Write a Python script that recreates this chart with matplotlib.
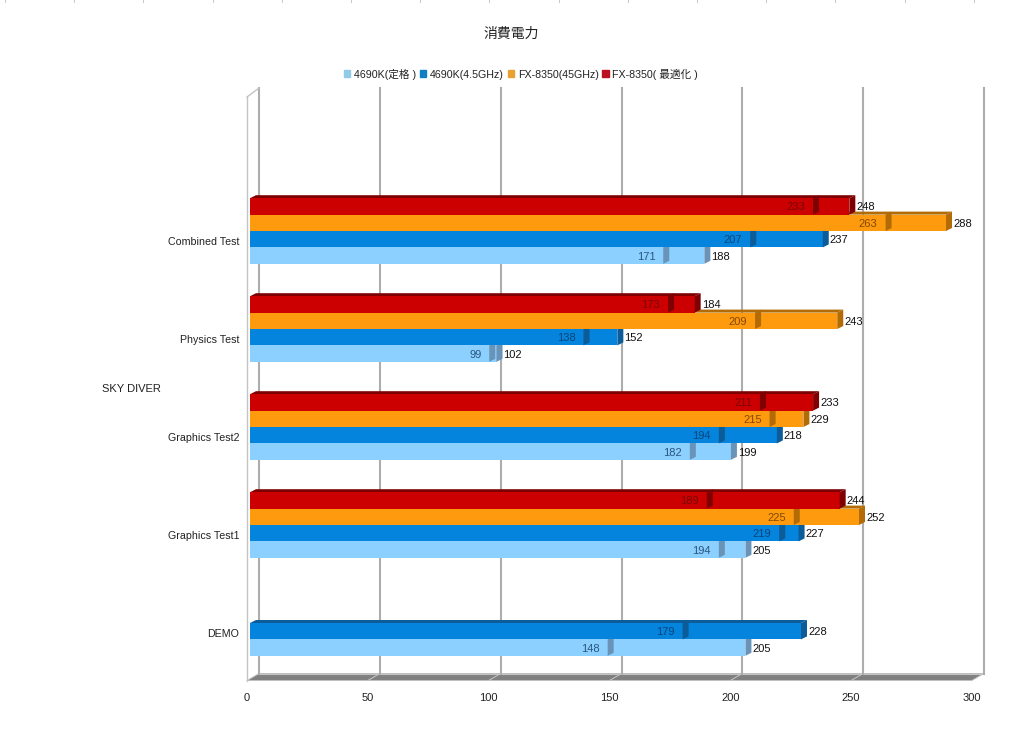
import numpy as np
import matplotlib
matplotlib.use('Agg')
import matplotlib.pyplot as plt
from matplotlib.lines import Line2D
from matplotlib.patches import Patch

plt.rcParams['font.family'] = ['Liberation Sans', 'Noto Sans CJK JP']
plt.rcParams['font.size'] = 7.7

categories = ['DEMO', 'Graphics Test1', 'Graphics Test2', 'Physics Test', 'Combined Test']
series_names = ['4690K(定格 )', '4690K(4.5GHz)', 'FX-8350(45GHz)', 'FX-8350( 最適化 )']
x_ticks = [0, 50, 100, 150, 200, 250, 300]

# first value is the one drawn inside the bar, second is the bar end
light_inner = [148, 194, 182, 99, 171]
light_outer = [205, 205, 199, 102, 188]
blue_inner = [179, 219, 194, 138, 207]
blue_outer = [228, 227, 218, 152, 237]
orange_inner = [np.nan, 225, 215, 209, 263]
orange_outer = [np.nan, 252, 229, 243, 288]
red_inner = [np.nan, 189, 211, 173, 233]
red_outer = [np.nan, 244, 233, 184, 248]

inner = [light_inner, blue_inner, orange_inner, red_inner]
outer = [light_outer, blue_outer, orange_outer, red_outer]

face_cols = ['#8bd0ff', '#0484dc', '#fe9a0e', '#cc0000']
side_cols = ['#6a93b8', '#0b5c98', '#b26b05', '#7e0000']
inner_txt_cols = ['#2a5680', '#07467c', '#844800', '#7a0606']
legend_cols = ['#92cbe8', '#0f7fc4', '#e8a030', '#bb1020']

W, H = 1024, 741
fig = plt.figure(figsize=(W / 100, H / 100), dpi=100)
ax = fig.add_axes([247 / W, 1 - 680.5 / H, 725 / W, 592.5 / H])
ax.set_xlim(0, 300)
ax.set_ylim(-57.5 / 98, 535 / 98)

px = 300 / 725  # one pixel in x units
py = 1 / 98     # one pixel in y units

# walls and floor
back_x = 12 * px
back_y = 7 * py
y0, y1 = ax.get_ylim()
ax.fill([0, 300, 300 + back_x, back_x], [y0, y0, y0 + back_y, y0 + back_y],
        color='#808080', lw=0, clip_on=False, zorder=1)
ax.plot([back_x, 300 + back_x], [y0 + back_y] * 2, color='#c4c4c4', lw=0.8,
        clip_on=False, zorder=1.2)
for t in x_ticks:
    ax.plot([t, t + back_x], [y0, y0 + back_y], color='#c8c8c8', lw=0.7,
            clip_on=False, zorder=1.1)
    ax.plot([t + back_x] * 2, [y0 + back_y, y1], color='#adadad', lw=1.5,
            clip_on=False, zorder=1.5)
ax.plot([0, 0], [y0, y1 - 9 * py], color='#c4c4c4', lw=1, clip_on=False, zorder=1.5)
ax.plot([0, back_x], [y1 - 9 * py, y1], color='#c4c4c4', lw=1, clip_on=False, zorder=1.5)

# bars
h = 16.4 * py
start = 3 * px
dx = 6 * px
dy = 3 * py
z = 2
for s in range(4):
    y_pos = np.arange(len(categories)) + (s - 1.5) * h
    for i, (a, b) in enumerate(zip(inner[s], outer[s])):
        if np.isnan(b):
            continue
        y = y_pos[i]
        top = y + h / 2
        bot = y - h / 2
        ax.fill([start, start + b, start + b + dx, start + dx],
                [top, top, top + dy, top + dy], color=side_cols[s], lw=0, zorder=z)
        ax.barh(y, b, height=h, left=start, color=face_cols[s], zorder=z + 0.1)
        for v in (a, b):
            ax.fill([start + v, start + v + dx, start + v + dx, start + v],
                    [bot, bot + dy, top + dy, top],
                    color=side_cols[s], lw=0, zorder=z + 0.2)
        ax.text(start + a - 8 * px, y - py, str(a), ha='right', va='center',
                color=inner_txt_cols[s], fontsize=8, zorder=50)
        ax.text(start + b + 7 * px, y - py, str(b), ha='left', va='center',
                color='#111111', fontsize=8, zorder=50)
        z += 0.5

# axes text
for sp in ax.spines.values():
    sp.set_visible(False)
ax.patch.set_visible(False)
ax.set_xticks(x_ticks)
ax.tick_params(axis='x', length=0, pad=9, labelsize=8, labelcolor='#222222')
ax.set_yticks(np.arange(len(categories)) - 10 * py)
ax.set_yticklabels(categories)
ax.tick_params(axis='y', length=0, pad=5.5, labelsize=7.7, labelcolor='#222222')

ax.text(-116 * px, (623 - 389) * py, 'SKY DIVER', ha='center', va='center',
        fontsize=8, color='#222222')
fig.text(511 / W, 1 - 33.5 / H, '消費電力', ha='center', va='center', fontsize=10,
         color='#222222')

handles = [Patch(color=c, label=n) for c, n in zip(legend_cols, series_names)]
fig.legend(handles=handles, loc='center', bbox_to_anchor=(521 / W, 1 - 74 / H), ncol=4,
           frameon=False, fontsize=7.7, handlelength=0.6, handleheight=0.6,
           handletextpad=0.35, columnspacing=0.35, borderpad=0, labelcolor='#222222')

# little marks along the top edge of the picture
for x in np.arange(5, W, 69.2):
    fig.add_artist(Line2D([x / W] * 2, [1 - 2 / H, 1], color='#c8c8c8', lw=0.7))

fig.savefig('out.png', dpi=100, facecolor='white')
